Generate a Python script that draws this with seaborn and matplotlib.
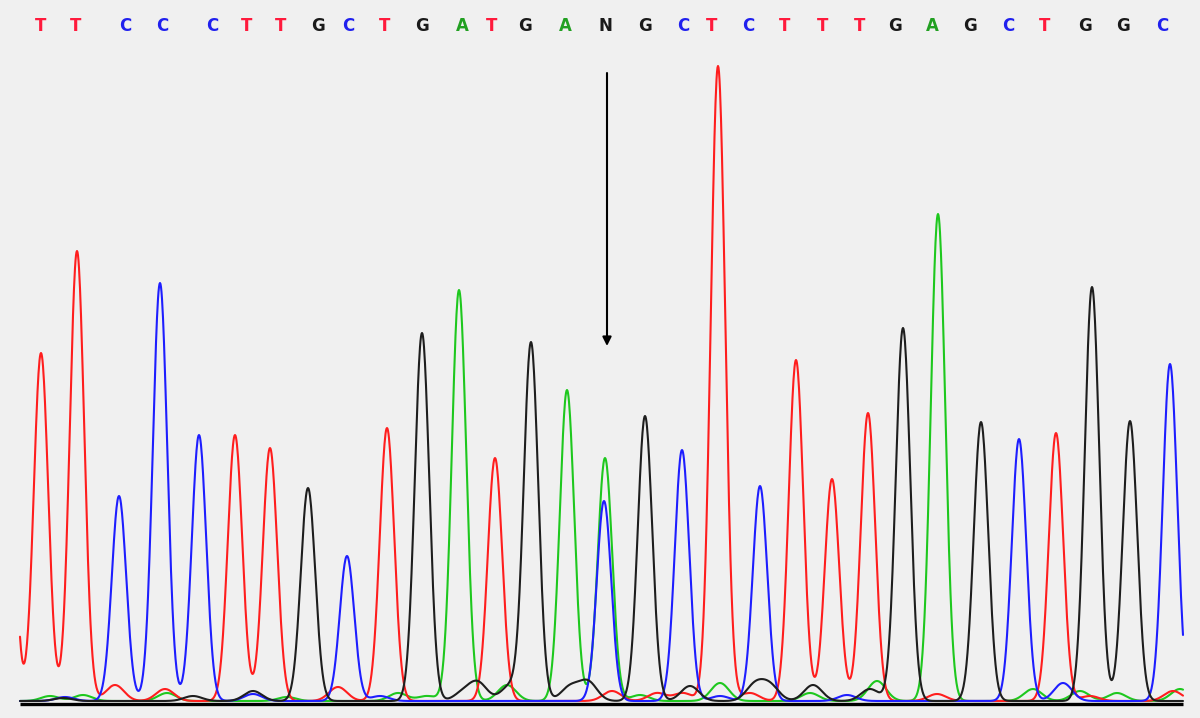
import numpy as np
import pandas as pd
import matplotlib
matplotlib.use("Agg")
import matplotlib.pyplot as plt
import seaborn as sns

# ---- data (x in trace units, height above baseline) ----
called_bases = list("TTCCCTTGCTGATGANGCTCTTTGAGCTGGC")
call_x = [41, 76, 125, 162, 212, 247, 281, 318, 348, 385,
          422, 462, 492, 525, 565, 605, 645, 683, 712, 748,
          785, 823, 860, 895, 932, 970, 1008, 1045, 1085, 1123, 1162]

# main peaks: base, position, height
peak_base = ["T", "T", "T", "C", "C", "C", "T", "T", "G", "C", "T",
             "G", "A", "T", "G", "A", "A", "C", "G", "C", "T", "C",
             "T", "T", "T", "G", "A", "G", "C", "T", "G", "G", "C"]
peak_pos = [5, 41, 77, 119, 160, 199, 235, 270, 308, 347, 387,
            422, 459, 495, 531, 567, 605, 604, 645, 682, 718, 760,
            796, 832, 868, 903, 938, 981, 1019, 1056, 1092, 1130, 1170]
peak_height = [520, 348, 450, 205, 418, 266, 266, 253, 213, 145, 273,
               368, 411, 243, 358, 311, 243, 200, 285, 251, 635, 215,
               341, 222, 288, 373, 487, 279, 262, 268, 414, 280, 337]

# small background humps near the baseline
noise_base = (["A"] * 15 + ["T"] * 10 + ["C"] * 6 + ["G"] * 13)
noise_pos = [50, 83, 167, 287, 398, 427, 507, 640, 720, 810, 877, 1033, 1080, 1117, 1180,
             115, 165, 338, 612, 657, 683, 750, 937, 1090, 1173,
             65, 253, 380, 720, 847, 1063,
             63, 193, 253, 463, 478, 510, 570, 588, 690, 755, 770, 813, 870]
noise_height = [5, 6, 8, 4, 8, 5, 16, 6, 18, 8, 20, 12, 10, 8, 12,
                16, 12, 14, 10, 8, 8, 8, 7, 5, 10,
                4, 7, 5, 5, 6, 18,
                3, 5, 10, 8, 18, 15, 14, 19, 15, 16, 15, 16, 12]

base_colors = {"A": "#1ec81e", "T": "#ff1e1e", "C": "#1e1eff", "G": "#1e1e1e"}
letter_colors = {"A": "#22a022", "T": "#ff1a3c", "C": "#2020ee", "G": "#1a1a1a", "N": "#1a1a1a"}

# ---- build traces ----
x = np.arange(20, 1183.5, 0.5)
peak_sigma = 7.2
noise_sigma = 9.0
rows = []
for b in ["A", "T", "C", "G"]:
    y = np.full_like(x, 2.0)
    for pb, p, h in zip(peak_base, peak_pos, peak_height):
        if pb == b:
            y += h * np.exp(-(x - p) ** 2 / (2 * peak_sigma ** 2))
    for nb, p, h in zip(noise_base, noise_pos, noise_height):
        if nb == b:
            y += h * np.exp(-(x - p) ** 2 / (2 * noise_sigma ** 2))
    rows.append(pd.DataFrame({"pos": x, "signal": y, "base": b}))
df = pd.concat(rows, ignore_index=True)

sns.set_style("white")
bg = "#f0f0f0"
fig = plt.figure(figsize=(12, 7.18), dpi=100, facecolor=bg)
ax = fig.add_axes([0, 0, 1, 1])
ax.set_facecolor(bg)

sns.lineplot(data=df, x="pos", y="signal", hue="base", hue_order=["A", "T", "C", "G"],
             palette=base_colors, estimator=None, sort=False, legend=False,
             linewidth=1.5, ax=ax)

ax.hlines(-0.5, 20, 1183, color="black", linewidth=2.4)

for b, cx in zip(called_bases, call_x):
    ax.text(cx, 677, b, color=letter_colors[b], fontsize=12, fontweight="bold",
            ha="center", va="center")

ax.annotate("", xy=(607, 357), xytext=(607, 630),
            arrowprops=dict(arrowstyle="-|>", color="black", lw=1.5,
                            mutation_scale=13, shrinkA=0, shrinkB=0))

ax.set_xlim(0, 1200)
ax.set_ylim(-15, 703)
ax.set_axis_off()

fig.savefig("out.png", dpi=100, facecolor=bg)
